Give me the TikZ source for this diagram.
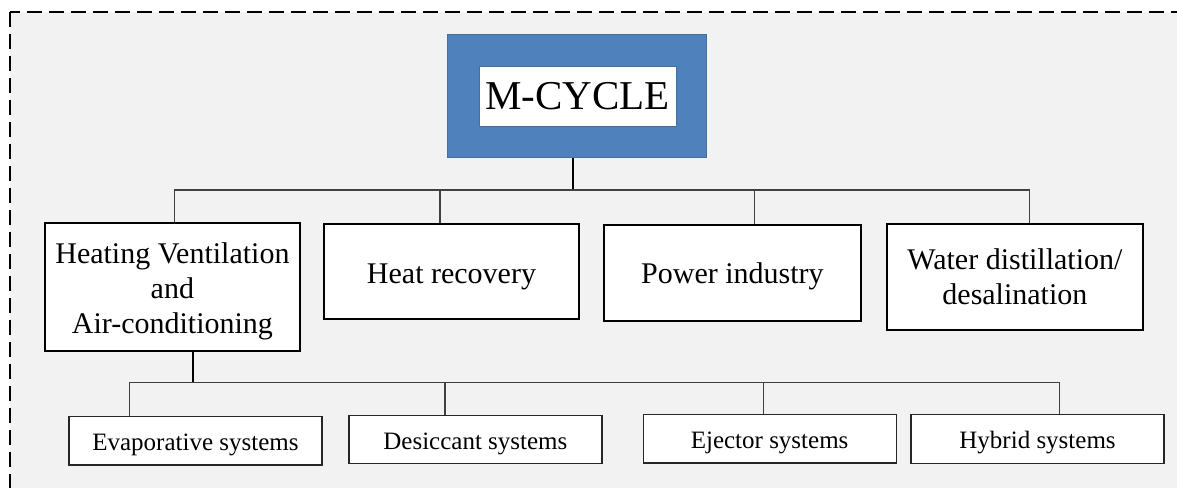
\documentclass[tikz,border=0pt]{standalone}
\usepackage{fontspec}
\setmainfont{Liberation Serif}
\definecolor{bgray}{HTML}{F2F2F2}
\definecolor{mblue}{HTML}{4F81BD}
\definecolor{mblueline}{HTML}{41719C}
\definecolor{busgray}{HTML}{404040}
\tikzset{
  mainbox/.style={draw=mblueline, line width=1pt, fill=mblue, minimum width=258.7pt, minimum height=122pt, inner sep=0pt},
  titlebox/.style={draw=mblueline, line width=0.8pt, fill=white, minimum width=197.2pt, minimum height=59.3pt, inner sep=0pt, font=\fontsize{41}{45}\selectfont},
  catbox/.style={draw=black, line width=2pt, fill=white, minimum width=255pt, inner sep=0pt, align=center, font=\fontsize{30}{34.5}\selectfont},
  cattext/.style={inner sep=0pt, align=center, font=\fontsize{30}{35}\selectfont},
  subbox/.style={draw=black!85, line width=1.2pt, fill=white, minimum width=253pt, minimum height=48.7pt, inner sep=0pt, text height=19.5pt, text depth=0pt, font=\fontsize{25}{28}\selectfont},
  bus/.style={draw=busgray, line width=1.2pt},
  trunk/.style={draw=black, line width=2pt},
  frame/.style={draw=black, line width=2pt, dash pattern=on 15pt off 7pt}
}
\begin{document}
\begin{tikzpicture}[x=1pt,y=-1pt]
\useasboundingbox (0,0) rectangle (1177,487);
\clip (0,0) rectangle (1177,487);
\fill[white] (0,0) rectangle (1177,487);
\fill[bgray] (10,12) rectangle (1200,510);
\draw[frame] (10,12) rectangle (1200,510);

\node[mainbox] (mc) at (577.3,96) {};
\node[titlebox] (title) at (577.6,96.35) {M-CYCLE};

\node[catbox, minimum width=255.2pt, minimum height=128pt] (hvac) at (172.4,286.7) {};
\node[cattext, yshift=-4.5pt] (hvactext) at (hvac.center) {Heating Ventilation\\and\\Air-conditioning};
\node[catbox, minimum height=95.3pt, text height=24.6pt, text depth=0pt] (hr) at (451.5,271.65) {Heat recovery};
\node[catbox, minimum width=256.1pt, minimum height=95.7pt, text height=22.2pt, text depth=0pt] (pi) at (732.45,272.85) {Power industry};
\node[catbox, minimum width=255.8pt, minimum height=106.3pt] (wd) at (1014.9,276.85) {Water distillation/\\desalination};

\node[subbox] (evap) at (195.4,440.65) {Evaporative systems};
\node[subbox, minimum height=48.4pt] (des) at (475.4,439.5) {Desiccant systems};
\node[subbox] (ej) at (769.6,438.65) {Ejector systems};
\node[subbox, minimum height=49pt] (hy) at (1037.55,439.2) {Hybrid systems};

\coordinate (b1) at (573,190);
\coordinate (b2) at (193,382.7);

\draw[trunk] ([xshift=-4.3]mc.south) -- (b1);
\draw[bus] ([xshift=2.1]hvac.north) |- (b1) -| ([xshift=14.5]wd.north);
\draw[bus] ([xshift=-11.5]hr.north) -- ([xshift=-11.5]hr.north |- b1);
\draw[bus] ([xshift=21.7]pi.north) -- ([xshift=21.7]pi.north |- b1);

\draw[trunk] ([xshift=20.6]hvac.south) -- (b2);
\draw[bus] ([xshift=-66]evap.north) |- (b2) -| ([xshift=21.7]hy.north);
\draw[bus] ([xshift=-30.4]des.north) -- ([xshift=-30.4]des.north |- b2);
\draw[bus] ([xshift=-6.2]ej.north) -- ([xshift=-6.2]ej.north |- b2);
\end{tikzpicture}
\end{document}
